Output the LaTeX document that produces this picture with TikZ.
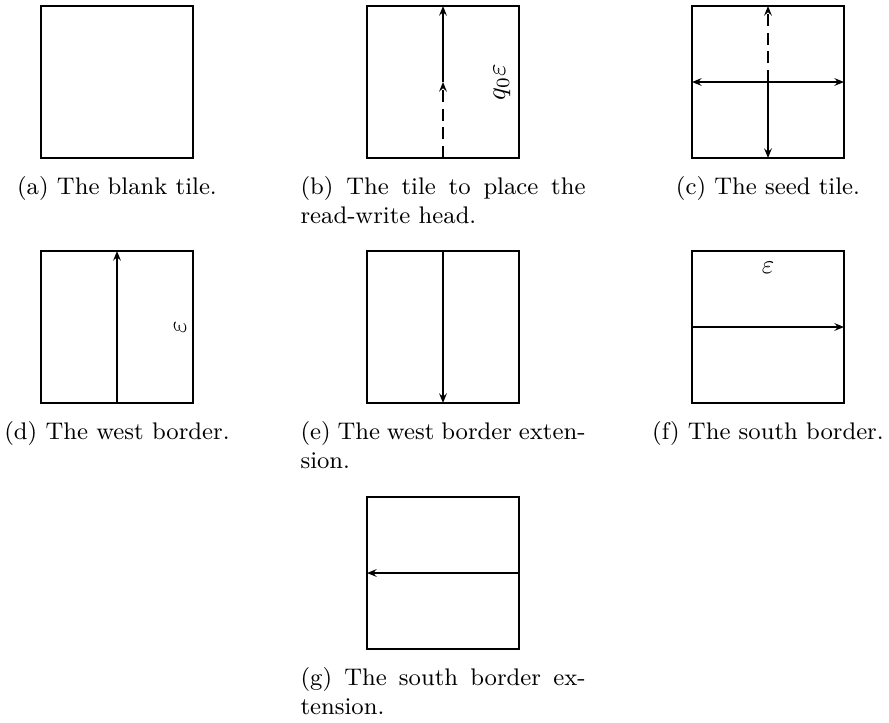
\documentclass[tikz,border=0pt]{standalone}
\usetikzlibrary{arrows.meta}
\begin{document}
\begin{tikzpicture}[x=0.37453pt,y=-0.37453pt,
  tile/.style={draw, line width=0.8pt, minimum width=2cm, minimum height=2cm, inner sep=0pt, outer sep=0pt},
  arr/.style={line width=0.8pt, -{Stealth[length=3.6pt,width=2.9pt,inset=1.3pt]}},
  dsh/.style={arr, dash pattern=on 4.5pt off 2.5pt},
  captext/.style={font=\small, inner sep=0pt, anchor=base},
  captextw/.style={font=\small, inner sep=0pt, anchor=base west},
  lab/.style={font=\normalsize, inner sep=0pt}]
\useasboundingbox (0,0) rectangle (889,722);

% tiles
\node[tile] (a) at (117,82) {};
\node[tile] (b) at (443,82) {};
\node[tile] (c) at (768,82) {};
\node[tile] (d) at (117,327) {};
\node[tile] (e) at (443,327) {};
\node[tile] (f) at (768,327) {};
\node[tile] (g) at (443,573) {};

% (b)
\draw[dsh] (b.south) -- (b.center);
\draw[arr] (b.center) -- (b.north);
\node[lab, rotate=90] (lb) at (502,82) {$q_0\varepsilon$};

% (c)
\draw[dsh] (c.center) -- (c.north);
\draw[arr] (c.center) -- (c.south);
\draw[arr] (c.center) -- (c.west);
\draw[arr] (c.center) -- (c.east);

% (d)
\draw[arr] (d.south) -- (d.north);
\node[lab, rotate=90] (ld) at (180,327) {$\varepsilon$};

% (e)
\draw[arr] (e.north) -- (e.south);

% (f)
\draw[arr] (f.west) -- (f.east);
\node[lab] (lf) at (768,268) {$\varepsilon$};

% (g)
\draw[arr] (g.east) -- (g.west);

% captions
\node[captext] (ca) at (117,194) {(a) The blank tile.};
\node[captextw] (cb) at (300,194) {\parbox[t]{106.74pt}{(b) The tile to place the\linebreak read-write head.}};
\node[captext] (cc) at (768,194) {(c) The seed tile.};
\node[captext] (cd) at (117,439) {(d) The west border.};
\node[captextw] (ce) at (300,439) {\parbox[t]{106.74pt}{(e) The west border exten-\linebreak sion.}};
\node[captext] (cf) at (768,439) {(f) The south border.};
\node[captextw] (cg) at (300,685) {\parbox[t]{106.74pt}{(g) The south border ex-\linebreak tension.}};
\end{tikzpicture}
\end{document}
